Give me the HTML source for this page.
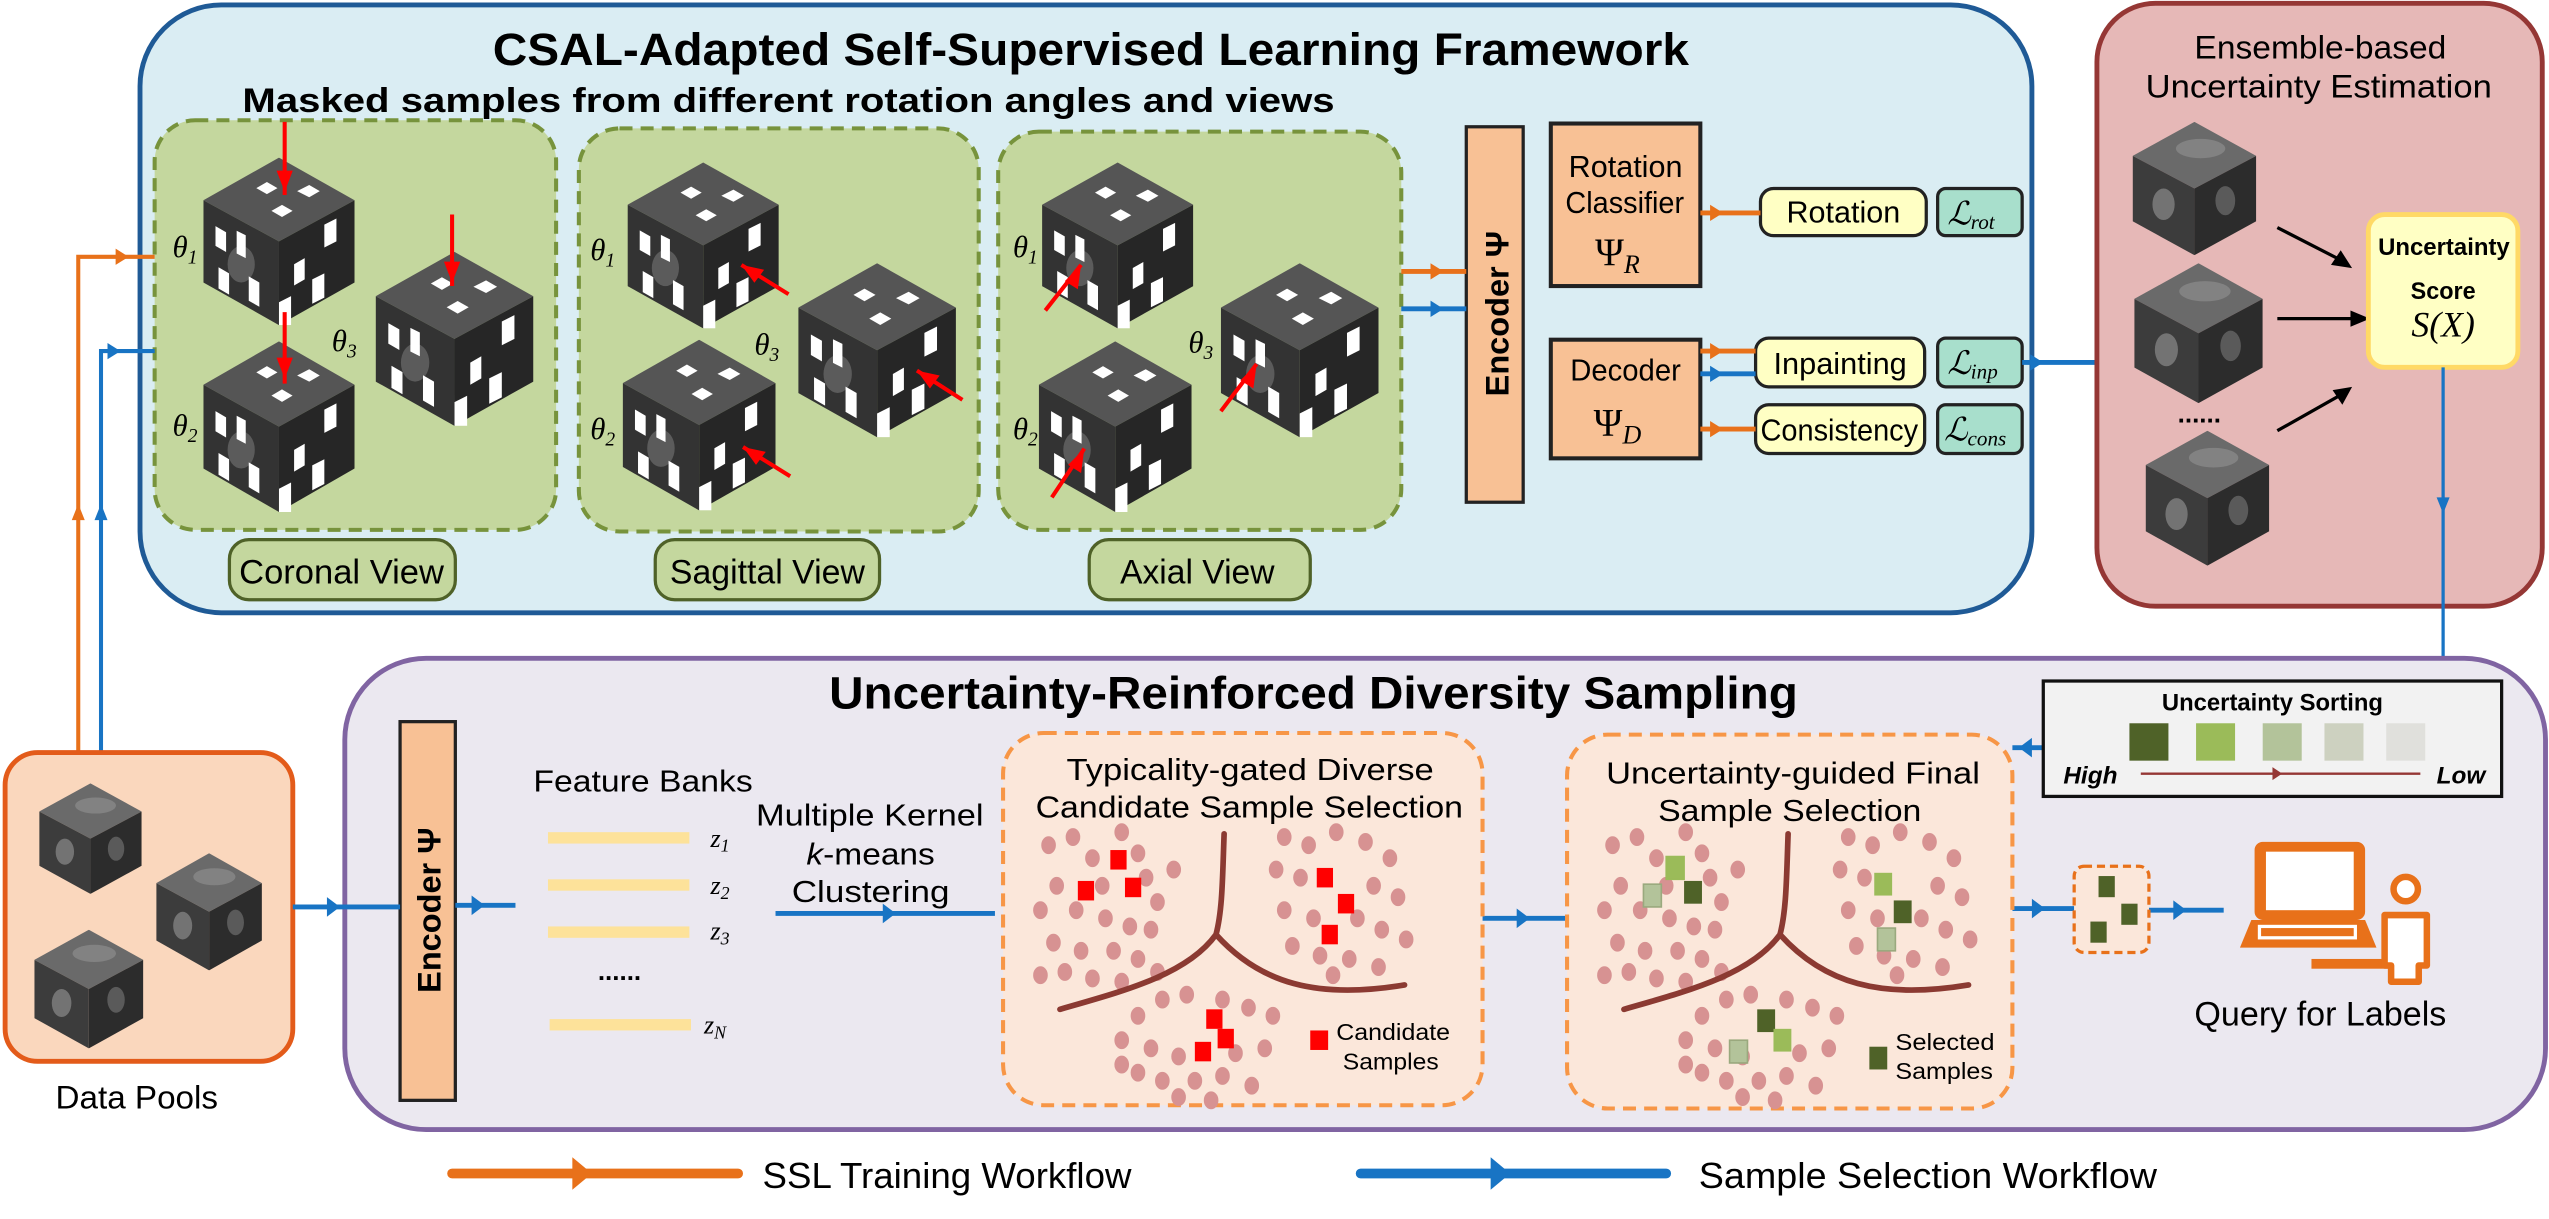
<!DOCTYPE html>
<html><head><meta charset="utf-8"><style>
html,body{margin:0;padding:0;background:#fff;}
svg{display:block;}
text{font-family:"Liberation Sans Narrow","Liberation Sans",sans-serif;fill:#000;}
.b{font-weight:bold;}
text.m{font-family:"Liberation Serif",serif;font-style:italic;}
</style></head><body>
<svg width="2549" height="1219" viewBox="0 0 1568 750" xmlns="http://www.w3.org/2000/svg">
<defs>
<symbol id="cube" viewBox="0 0 100 110" preserveAspectRatio="none">
<polygon points="50,0 100,28 50,55 0,28" fill="#6a6a6a"/>
<polygon points="0,28 50,55 50,110 0,82" fill="#3c3c3c"/>
<polygon points="50,55 100,28 100,82 50,110" fill="#2c2c2c"/>
<ellipse cx="25" cy="68" rx="9" ry="13" fill="#8a8a8a" opacity=".7"/>
<ellipse cx="75" cy="65" rx="8" ry="12" fill="#7a7a7a" opacity=".6"/>
<ellipse cx="55" cy="22" rx="20" ry="8" fill="#999" opacity=".5"/>
</symbol>
<symbol id="mcube" viewBox="0 0 100 110" preserveAspectRatio="none">
<polygon points="50,0 100,28 50,55 0,28" fill="#555"/>
<polygon points="0,28 50,55 50,110 0,82" fill="#333"/>
<polygon points="50,55 100,28 100,82 50,110" fill="#262626"/>
<ellipse cx="25" cy="70" rx="9" ry="12" fill="#777" opacity=".6"/>
<g fill="#fff">
<polygon points="35,20 42,16 49,20 42,24"/><polygon points="62,22 70,18 77,22 70,26"/><polygon points="45,35 52,31 59,35 52,39"/>
<polygon points="8,45 15,49 15,62 8,58"/><polygon points="22,48 28,51 28,66 22,63"/><polygon points="10,72 17,76 17,90 10,86"/><polygon points="30,78 37,82 37,98 30,94"/>
<polygon points="60,70 67,66 67,80 60,84"/><polygon points="80,44 88,40 88,55 80,59"/><polygon points="72,80 80,76 80,92 72,96"/><polygon points="50,95 58,91 58,110 50,110"/>
</g>
</symbol>
<g id="clus">
<g fill="#d79292">
<ellipse cx="645" cy="520" rx="4.5" ry="5.5"/><ellipse cx="660" cy="515" rx="4.5" ry="5.5"/><ellipse cx="672" cy="528" rx="4.5" ry="5.5"/><ellipse cx="690" cy="512" rx="4.5" ry="5.5"/><ellipse cx="700" cy="525" rx="4.5" ry="5.5"/><ellipse cx="705" cy="540" rx="4.5" ry="5.5"/><ellipse cx="712" cy="555" rx="4.5" ry="5.5"/><ellipse cx="650" cy="545" rx="4.5" ry="5.5"/><ellipse cx="640" cy="560" rx="4.5" ry="5.5"/><ellipse cx="662" cy="560" rx="4.5" ry="5.5"/><ellipse cx="680" cy="565" rx="4.5" ry="5.5"/><ellipse cx="695" cy="570" rx="4.5" ry="5.5"/><ellipse cx="708" cy="572" rx="4.5" ry="5.5"/><ellipse cx="648" cy="580" rx="4.5" ry="5.5"/><ellipse cx="665" cy="585" rx="4.5" ry="5.5"/><ellipse cx="685" cy="585" rx="4.5" ry="5.5"/><ellipse cx="700" cy="590" rx="4.5" ry="5.5"/><ellipse cx="655" cy="598" rx="4.5" ry="5.5"/><ellipse cx="672" cy="602" rx="4.5" ry="5.5"/><ellipse cx="690" cy="604" rx="4.5" ry="5.5"/><ellipse cx="712" cy="598" rx="4.5" ry="5.5"/><ellipse cx="678" cy="545" rx="4.5" ry="5.5"/><ellipse cx="722" cy="535" rx="4.5" ry="5.5"/><ellipse cx="640" cy="600" rx="4.5" ry="5.5"/>
<ellipse cx="790" cy="515" rx="4.5" ry="5.5"/><ellipse cx="805" cy="520" rx="4.5" ry="5.5"/><ellipse cx="822" cy="512" rx="4.5" ry="5.5"/><ellipse cx="840" cy="518" rx="4.5" ry="5.5"/><ellipse cx="855" cy="528" rx="4.5" ry="5.5"/><ellipse cx="785" cy="535" rx="4.5" ry="5.5"/><ellipse cx="800" cy="540" rx="4.5" ry="5.5"/><ellipse cx="845" cy="545" rx="4.5" ry="5.5"/><ellipse cx="860" cy="552" rx="4.5" ry="5.5"/><ellipse cx="790" cy="560" rx="4.5" ry="5.5"/><ellipse cx="808" cy="565" rx="4.5" ry="5.5"/><ellipse cx="835" cy="565" rx="4.5" ry="5.5"/><ellipse cx="850" cy="572" rx="4.5" ry="5.5"/><ellipse cx="865" cy="578" rx="4.5" ry="5.5"/><ellipse cx="795" cy="582" rx="4.5" ry="5.5"/><ellipse cx="812" cy="588" rx="4.5" ry="5.5"/><ellipse cx="830" cy="590" rx="4.5" ry="5.5"/><ellipse cx="848" cy="595" rx="4.5" ry="5.5"/><ellipse cx="820" cy="600" rx="4.5" ry="5.5"/>
<ellipse cx="700" cy="625" rx="4.5" ry="5.5"/><ellipse cx="715" cy="615" rx="4.5" ry="5.5"/><ellipse cx="730" cy="612" rx="4.5" ry="5.5"/><ellipse cx="752" cy="615" rx="4.5" ry="5.5"/><ellipse cx="768" cy="620" rx="4.5" ry="5.5"/><ellipse cx="783" cy="625" rx="4.5" ry="5.5"/><ellipse cx="690" cy="640" rx="4.5" ry="5.5"/><ellipse cx="708" cy="645" rx="4.5" ry="5.5"/><ellipse cx="725" cy="650" rx="4.5" ry="5.5"/><ellipse cx="760" cy="648" rx="4.5" ry="5.5"/><ellipse cx="778" cy="645" rx="4.5" ry="5.5"/><ellipse cx="700" cy="660" rx="4.5" ry="5.5"/><ellipse cx="715" cy="665" rx="4.5" ry="5.5"/><ellipse cx="735" cy="665" rx="4.5" ry="5.5"/><ellipse cx="752" cy="662" rx="4.5" ry="5.5"/><ellipse cx="770" cy="668" rx="4.5" ry="5.5"/><ellipse cx="725" cy="675" rx="4.5" ry="5.5"/><ellipse cx="745" cy="677" rx="4.5" ry="5.5"/><ellipse cx="690" cy="655" rx="4.5" ry="5.5"/>
</g>
<path d="M753,513 C752,540 752,560 748,575 C730,600 690,610 652,621 M748,575 C775,605 810,615 864,606" fill="none" stroke="#8b3a32" stroke-width="3.5" stroke-linecap="round"/>
</g>
</defs>

<!-- Top blue box -->
<rect x="86" y="3" width="1164" height="374" rx="50" fill="#daedf3" stroke="#1f5a96" stroke-width="3"/>
<text x="303" y="40" class="b" font-size="28" textLength="736" lengthAdjust="spacingAndGlyphs">CSAL-Adapted Self-Supervised Learning Framework</text>
<text x="149" y="69" class="b" font-size="21" textLength="672" lengthAdjust="spacingAndGlyphs">Masked samples from different rotation angles and views</text>

<!-- green dashed boxes -->
<g fill="#c4d79e" stroke="#77933c" stroke-width="2.5" stroke-dasharray="8,5">
<rect x="95" y="74" width="247" height="252" rx="25"/>
<rect x="356" y="79" width="246" height="248" rx="25"/>
<rect x="614" y="81" width="248" height="245" rx="25"/>
</g>
<g fill="#c4d79e" stroke="#4f6228" stroke-width="2">
<rect x="141" y="332" width="139" height="37" rx="12"/>
<rect x="403" y="332" width="138" height="37" rx="12"/>
<rect x="670" y="332" width="136" height="37" rx="12"/>
</g>
<text x="147" y="359" font-size="21" textLength="126" lengthAdjust="spacingAndGlyphs">Coronal View</text>
<text x="412" y="359" font-size="21" textLength="120" lengthAdjust="spacingAndGlyphs">Sagittal View</text>
<text x="689" y="359" font-size="21" textLength="95" lengthAdjust="spacingAndGlyphs">Axial View</text>

<!-- cubes -->
<use href="#mcube" x="125" y="97" width="93" height="103"/>
<use href="#mcube" x="125" y="210" width="93" height="105"/>
<use href="#mcube" x="231" y="155" width="97" height="107"/>
<use href="#mcube" x="386" y="100" width="93" height="102"/>
<use href="#mcube" x="383" y="209" width="94" height="105"/>
<use href="#mcube" x="491" y="162" width="97" height="107"/>
<use href="#mcube" x="641" y="100" width="93" height="102"/>
<use href="#mcube" x="639" y="210" width="94" height="105"/>
<use href="#mcube" x="751" y="162" width="97" height="107"/>

<g font-size="19">
<text class="m" x="106" y="158">θ<tspan font-size="12" dy="4">1</tspan></text>
<text class="m" x="106" y="268">θ<tspan font-size="12" dy="4">2</tspan></text>
<text class="m" x="204" y="216">θ<tspan font-size="12" dy="4">3</tspan></text>
<text class="m" x="363" y="160">θ<tspan font-size="12" dy="4">1</tspan></text>
<text class="m" x="363" y="270">θ<tspan font-size="12" dy="4">2</tspan></text>
<text class="m" x="464" y="218">θ<tspan font-size="12" dy="4">3</tspan></text>
<text class="m" x="623" y="158">θ<tspan font-size="12" dy="4">1</tspan></text>
<text class="m" x="623" y="270">θ<tspan font-size="12" dy="4">2</tspan></text>
<text class="m" x="731" y="217">θ<tspan font-size="12" dy="4">3</tspan></text>
</g>

<!-- red arrows -->
<g stroke="#f00" stroke-width="2.5" fill="#f00">
<line x1="175" y1="75" x2="175" y2="120"/><polygon points="170,105 180,105 175,118" stroke="none"/>
<line x1="175" y1="192" x2="175" y2="236"/><polygon points="170,220 180,220 175,233" stroke="none"/>
<line x1="278" y1="132" x2="278" y2="176"/><polygon points="273,161 283,161 278,174" stroke="none"/>
<line x1="485" y1="181" x2="456" y2="163"/><polygon points="456,163 470,166 464,174" stroke="none"/>
<line x1="486" y1="293" x2="457" y2="275"/><polygon points="457,275 471,278 465,286" stroke="none"/>
<line x1="592" y1="246" x2="564" y2="228"/><polygon points="564,228 578,231 572,239" stroke="none"/>
<line x1="643" y1="191" x2="665" y2="163"/><polygon points="665,163 663,178 655,173" stroke="none"/>
<line x1="647" y1="306" x2="667" y2="276"/><polygon points="667,276 665,291 657,286" stroke="none"/>
<line x1="751" y1="253" x2="773" y2="224"/><polygon points="773,224 771,239 763,234" stroke="none"/>
</g>

<!-- encoder top -->
<rect x="902" y="78" width="35" height="231" fill="#f8c195" stroke="#222" stroke-width="2"/>
<text transform="translate(928,193) rotate(-90)" font-weight="bold" font-size="20" text-anchor="middle" style="font-family:'Liberation Sans',sans-serif">Encoder Ψ</text>
<rect x="954" y="76" width="92" height="100" fill="#f8c195" stroke="#222" stroke-width="2.5"/>
<text x="965" y="109" font-size="19" textLength="70" lengthAdjust="spacingAndGlyphs">Rotation</text>
<text x="963" y="131" font-size="19" textLength="73" lengthAdjust="spacingAndGlyphs">Classifier</text>
<text x="995" y="163" font-size="24" text-anchor="middle" style="font-family:'Liberation Serif',serif">Ψ<tspan font-size="16" font-style="italic" dy="5">R</tspan></text>
<rect x="954" y="209" width="92" height="73" fill="#f8c195" stroke="#222" stroke-width="2.5"/>
<text x="966" y="234" font-size="19" textLength="68" lengthAdjust="spacingAndGlyphs">Decoder</text>
<text x="995" y="268" font-size="24" text-anchor="middle" style="font-family:'Liberation Serif',serif">Ψ<tspan font-size="16" font-style="italic" dy="5">D</tspan></text>

<g fill="#ffffc4" stroke="#222" stroke-width="2">
<rect x="1083" y="116" width="102" height="29" rx="8"/>
<rect x="1080" y="208" width="104" height="30" rx="8"/>
<rect x="1080" y="249" width="104" height="30" rx="8"/>
</g>
<g fill="#a8dfcc" stroke="#222" stroke-width="2">
<rect x="1192" y="116" width="52" height="29" rx="5"/>
<rect x="1192" y="208" width="52" height="30" rx="5"/>
<rect x="1192" y="249" width="52" height="30" rx="5"/>
</g>
<text x="1099" y="137" font-size="19" textLength="70" lengthAdjust="spacingAndGlyphs">Rotation</text>
<text x="1091" y="230" font-size="19" textLength="82" lengthAdjust="spacingAndGlyphs">Inpainting</text>
<text x="1083" y="271" font-size="19" textLength="97" lengthAdjust="spacingAndGlyphs">Consistency</text>
<g font-size="20">
<text class="m" x="1198" y="138">ℒ<tspan font-size="13" dy="3">rot</tspan></text>
<text class="m" x="1198" y="230">ℒ<tspan font-size="13" dy="3">inp</tspan></text>
<text class="m" x="1196" y="271">ℒ<tspan font-size="13" dy="3">cons</tspan></text>
</g>

<!-- top connectors -->
<g stroke-width="3" fill="none">
<line x1="862" y1="167" x2="902" y2="167" stroke="#e8711a"/>
<line x1="862" y1="190" x2="902" y2="190" stroke="#1874c4"/>
<line x1="1046" y1="131" x2="1083" y2="131" stroke="#e8711a"/>
<line x1="1046" y1="216" x2="1080" y2="216" stroke="#e8711a"/>
<line x1="1046" y1="230" x2="1080" y2="230" stroke="#1874c4"/>
<line x1="1046" y1="264" x2="1080" y2="264" stroke="#e8711a"/>
<line x1="1244" y1="223" x2="1290" y2="223" stroke="#1874c4"/>
</g>
<g>
<polygon points="880,162 888,167 880,172" fill="#e8711a"/>
<polygon points="880,185 888,190 880,195" fill="#1874c4"/>
<polygon points="1052,126 1060,131 1052,136" fill="#e8711a"/>
<polygon points="1052,211 1060,216 1052,221" fill="#e8711a"/>
<polygon points="1052,225 1060,230 1052,235" fill="#1874c4"/>
<polygon points="1052,259 1060,264 1052,269" fill="#e8711a"/>
<polygon points="1249,218 1257,223 1249,228" fill="#1874c4"/>
</g>

<!-- red ensemble box -->
<rect x="1290" y="2" width="274" height="371" rx="36" fill="#e6b8b7" stroke="#953735" stroke-width="3"/>
<text x="1350" y="36" font-size="20" textLength="155" lengthAdjust="spacingAndGlyphs">Ensemble-based</text>
<text x="1320" y="60" font-size="20" textLength="213" lengthAdjust="spacingAndGlyphs">Uncertainty Estimation</text>
<use href="#cube" x="1312" y="75" width="76" height="82"/>
<use href="#cube" x="1313" y="162" width="79" height="86"/>
<use href="#cube" x="1320" y="265" width="76" height="83"/>
<text x="1353" y="260" font-size="16" text-anchor="middle" font-weight="bold">......</text>
<g stroke="#000" stroke-width="2">
<line x1="1401" y1="140" x2="1440" y2="160"/><line x1="1401" y1="196" x2="1450" y2="196"/><line x1="1401" y1="265" x2="1440" y2="243"/>
</g>
<polygon points="1447,165 1434,163 1440,154" fill="#000"/>
<polygon points="1458,196 1446,191 1446,201" fill="#000"/>
<polygon points="1447,238 1441,249 1435,240" fill="#000"/>
<rect x="1457" y="132" width="92" height="94" rx="10" fill="#ffffc4" stroke="#ffd966" stroke-width="3"/>
<text x="1463" y="157" font-size="15" class="b" textLength="81" lengthAdjust="spacingAndGlyphs">Uncertainty</text>
<text x="1483" y="184" font-size="15" class="b" textLength="40" lengthAdjust="spacingAndGlyphs">Score</text>
<text class="m" x="1503" y="207" font-size="22" text-anchor="middle">S(X)</text>
<line x1="1503" y1="226" x2="1503" y2="419" stroke="#1874c4" stroke-width="2"/>
<polygon points="1499,306 1507,306 1503,316" fill="#1874c4"/>

<!-- left workflow lines -->
<g stroke-width="2.5" fill="none">
<polyline points="48,463 48,158 95,158" stroke="#e8711a"/>
<polyline points="62,463 62,216 95,216" stroke="#1874c4"/>
</g>
<polygon points="71,153 79,158 71,163" fill="#e8711a"/>
<polygon points="66,211 74,216 66,221" fill="#1874c4"/>
<polygon points="44,320 52,320 48,310" fill="#e8711a"/>
<polygon points="58,320 66,320 62,310" fill="#1874c4"/>

<!-- purple box -->
<rect x="212" y="405" width="1354" height="290" rx="50" fill="#ebe8f0" stroke="#8064a2" stroke-width="3"/>
<text x="510" y="436" class="b" font-size="28" textLength="596" lengthAdjust="spacingAndGlyphs">Uncertainty-Reinforced Diversity Sampling</text>

<!-- data pools -->
<rect x="3" y="463" width="177" height="190" rx="20" fill="#fad7bd" stroke="#e35b1a" stroke-width="3"/>
<use href="#cube" x="24" y="482" width="63" height="68"/>
<use href="#cube" x="96" y="525" width="65" height="72"/>
<use href="#cube" x="21" y="572" width="67" height="73"/>
<text x="34" y="682" font-size="20" textLength="100" lengthAdjust="spacingAndGlyphs">Data Pools</text>

<!-- encoder bottom -->
<rect x="246" y="444" width="34" height="233" fill="#f8c195" stroke="#222" stroke-width="2"/>
<text transform="translate(271,560) rotate(-90)" font-weight="bold" font-size="20" text-anchor="middle" style="font-family:'Liberation Sans',sans-serif">Encoder Ψ</text>
<g stroke="#1874c4" stroke-width="3">
<line x1="180" y1="558" x2="246" y2="558"/><line x1="280" y1="557" x2="317" y2="557"/>
<line x1="477" y1="562" x2="612" y2="562"/><line x1="912" y1="565" x2="964" y2="565"/>
<line x1="1238" y1="559" x2="1276" y2="559"/><line x1="1322" y1="560" x2="1368" y2="560"/>
<line x1="1238" y1="460" x2="1257" y2="460"/>
</g>
<g fill="#1874c4">
<polygon points="201,552 209,558 201,564"/><polygon points="290,551 298,557 290,563"/>
<polygon points="543,556 551,562 543,568"/><polygon points="933,559 941,565 933,571"/>
<polygon points="1250,553 1258,559 1250,565"/><polygon points="1337,554 1345,560 1337,566"/>
<polygon points="1250,454 1242,460 1250,466"/>
</g>

<text x="328" y="487" font-size="19" textLength="135" lengthAdjust="spacingAndGlyphs">Feature Banks</text>
<g fill="#fde29a">
<rect x="337" y="512" width="87" height="7"/><rect x="337" y="541" width="87" height="7"/>
<rect x="337" y="570" width="87" height="7"/><rect x="338" y="627" width="87" height="7"/>
</g>
<g font-size="16">
<text class="m" x="437" y="521">z<tspan font-size="11" dy="3">1</tspan></text>
<text class="m" x="437" y="550">z<tspan font-size="11" dy="3">2</tspan></text>
<text class="m" x="437" y="578">z<tspan font-size="11" dy="3">3</tspan></text>
<text class="m" x="433" y="636">z<tspan font-size="11" dy="3">N</tspan></text>
</g>
<text x="381" y="603" font-size="16" text-anchor="middle" font-weight="bold">......</text>
<text x="465" y="508" font-size="19" textLength="140" lengthAdjust="spacingAndGlyphs">Multiple Kernel</text>
<text x="496" y="532" font-size="19" textLength="79" lengthAdjust="spacingAndGlyphs"><tspan font-style="italic">k</tspan>-means</text>
<text x="487" y="555" font-size="19" textLength="97" lengthAdjust="spacingAndGlyphs">Clustering</text>

<!-- typicality box -->
<rect x="617" y="451" width="295" height="229" rx="25" fill="#fbe7da" stroke="#f79646" stroke-width="2.5" stroke-dasharray="8,5"/>
<text x="656" y="480" font-size="19" textLength="226" lengthAdjust="spacingAndGlyphs">Typicality-gated Diverse</text>
<text x="637" y="503" font-size="19" textLength="263" lengthAdjust="spacingAndGlyphs">Candidate Sample Selection</text>
<use href="#clus"/>
<g fill="#f00">
<rect x="683" y="523" width="10" height="12"/><rect x="663" y="542" width="10" height="12"/><rect x="692" y="540" width="10" height="12"/>
<rect x="810" y="534" width="10" height="12"/><rect x="823" y="550" width="10" height="12"/><rect x="813" y="569" width="10" height="12"/>
<rect x="742" y="621" width="10" height="12"/><rect x="749" y="633" width="10" height="12"/><rect x="735" y="641" width="10" height="12"/>
<rect x="806" y="634" width="11" height="12"/>
</g>
<text x="822" y="640" font-size="14" textLength="70" lengthAdjust="spacingAndGlyphs">Candidate</text>
<text x="826" y="658" font-size="14" textLength="59" lengthAdjust="spacingAndGlyphs">Samples</text>

<!-- final selection box -->
<rect x="964" y="452" width="274" height="230" rx="25" fill="#fbe7da" stroke="#f79646" stroke-width="2.5" stroke-dasharray="8,5"/>
<text x="988" y="482" font-size="19" textLength="230" lengthAdjust="spacingAndGlyphs">Uncertainty-guided Final</text>
<text x="1020" y="505" font-size="19" textLength="162" lengthAdjust="spacingAndGlyphs">Sample Selection</text>
<use href="#clus" x="347"/>
<g stroke-width="1">
<rect x="1025" y="527" width="11" height="14" fill="#9bbb59" stroke="#9bbb59"/>
<rect x="1036" y="542" width="11" height="14" fill="#4f6228"/>
<rect x="1011" y="544" width="11" height="14" fill="#b3c39a" stroke="#9aa97e"/>
<rect x="1153" y="537" width="11" height="14" fill="#9bbb59"/>
<rect x="1165" y="554" width="11" height="14" fill="#4f6228"/>
<rect x="1155" y="571" width="11" height="14" fill="#b3c39a" stroke="#9aa97e"/>
<rect x="1081" y="621" width="11" height="14" fill="#4f6228"/>
<rect x="1091" y="633" width="11" height="14" fill="#9bbb59"/>
<rect x="1064" y="640" width="11" height="14" fill="#b3c39a" stroke="#9aa97e"/>
<rect x="1150" y="644" width="11" height="14" fill="#4f6228"/>
</g>
<text x="1166" y="646" font-size="14" textLength="61" lengthAdjust="spacingAndGlyphs">Selected</text>
<text x="1166" y="664" font-size="14" textLength="60" lengthAdjust="spacingAndGlyphs">Samples</text>

<!-- sorting box -->
<rect x="1257" y="419" width="282" height="71" fill="#f2f2f2" stroke="#111" stroke-width="2"/>
<text x="1330" y="437" font-size="15" class="b" textLength="136" lengthAdjust="spacingAndGlyphs">Uncertainty Sorting</text>
<rect x="1310" y="445" width="24" height="23" fill="#4f6228"/>
<rect x="1351" y="445" width="24" height="23" fill="#9bbb59"/>
<rect x="1392" y="445" width="24" height="23" fill="#b3c39a"/>
<rect x="1430" y="445" width="24" height="23" fill="#cdd1c0"/>
<rect x="1468" y="445" width="24" height="23" fill="#e0e0dc"/>
<text x="1286" y="482" font-size="15" text-anchor="middle" class="b" font-style="italic">High</text>
<text x="1514" y="482" font-size="15" text-anchor="middle" class="b" font-style="italic">Low</text>
<line x1="1317" y1="476" x2="1489" y2="476" stroke="#953735" stroke-width="1.5"/>
<polygon points="1398,472 1404,476 1398,480" fill="#953735"/>

<!-- small selected box -->
<rect x="1276" y="533" width="46" height="53" rx="6" fill="#fbe7da" stroke="#e8711a" stroke-width="2" stroke-dasharray="5,3"/>
<rect x="1291" y="539" width="10" height="13" fill="#4f6228"/>
<rect x="1305" y="556" width="10" height="13" fill="#4f6228"/>
<rect x="1286" y="567" width="10" height="13" fill="#4f6228"/>

<!-- computer + person -->
<rect x="1387" y="518" width="68" height="48" rx="5" fill="#e8711a"/>
<rect x="1394" y="524" width="54" height="36" fill="#fff"/>
<path d="M1385,566 L1455,566 L1462,583 L1378,583 Z" fill="#e8711a"/>
<rect x="1389" y="569" width="61" height="9" fill="#fff"/>
<rect x="1391" y="571" width="57" height="5" fill="#e8711a"/>
<rect x="1422" y="590" width="50" height="6" fill="#e8711a"/>
<circle cx="1480" cy="547" r="7.5" fill="#fff" stroke="#e8711a" stroke-width="4"/>
<path d="M1467,563 L1493,563 L1493,594 L1488,594 L1488,604 L1471,604 L1471,594 L1467,594 Z" fill="#fff" stroke="#e8711a" stroke-width="4" stroke-linejoin="round"/>
<text x="1350" y="631" font-size="21" textLength="155" lengthAdjust="spacingAndGlyphs">Query for Labels</text>

<!-- legend -->
<line x1="278" y1="722" x2="454" y2="722" stroke="#e8711a" stroke-width="6" stroke-linecap="round"/>
<polygon points="352,712 364,722 352,732" fill="#e8711a"/>
<text x="469" y="731" font-size="22" textLength="227" lengthAdjust="spacingAndGlyphs">SSL Training Workflow</text>
<line x1="837" y1="722" x2="1025" y2="722" stroke="#1874c4" stroke-width="6" stroke-linecap="round"/>
<polygon points="917,712 929,722 917,732" fill="#1874c4"/>
<text x="1045" y="731" font-size="22" textLength="282" lengthAdjust="spacingAndGlyphs">Sample Selection Workflow</text>
</svg>
</body></html>
